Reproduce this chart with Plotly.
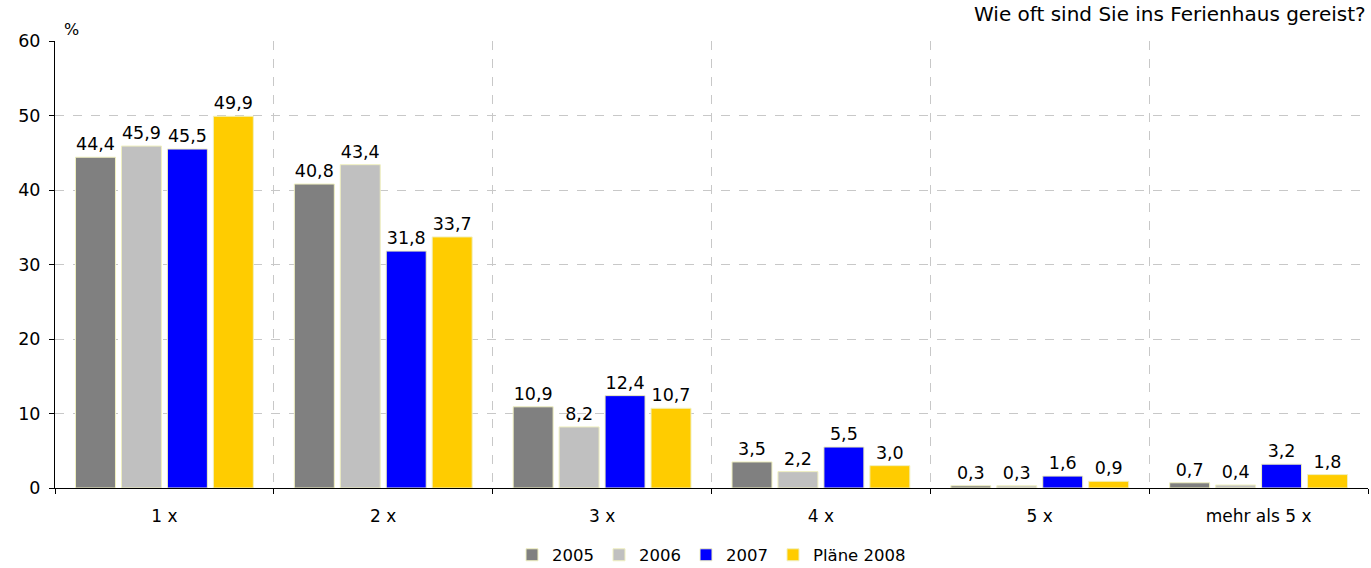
import plotly.graph_objects as go

categories = ["1 x", "2 x", "3 x", "4 x", "5 x", "mehr als 5 x"]
series_names = ["2005", "2006", "2007", "Pläne 2008"]
values_2005 = [44.4, 40.8, 10.9, 3.5, 0.3, 0.7]
values_2006 = [45.9, 43.4, 8.2, 2.2, 0.3, 0.4]
values_2007 = [45.5, 31.8, 12.4, 5.5, 1.6, 3.2]
values_2008 = [49.9, 33.7, 10.7, 3.0, 0.9, 1.8]
colors = ["#808080", "#c0c0c0", "#0000ff", "#ffcc00"]
y_ticks = [0, 10, 20, 30, 40, 50, 60]

FONT = "DejaVu Sans, Verdana, sans-serif"

fig = go.Figure()
for name, vals, col in zip(series_names,
                           [values_2005, values_2006, values_2007, values_2008],
                           colors):
    fig.add_trace(go.Bar(
        name=name,
        x=categories,
        y=vals,
        marker=dict(color=col, line=dict(color="#f0f0c0", width=1)),
        texttemplate="%{y:.1f}",
        textposition="outside",
        constraintext="none",
        cliponaxis=False,
        textfont=dict(family=FONT, size=17.5, color="#000000"),
        hoverinfo="skip",
    ))

fig.update_layout(
    width=1371, height=568,
    margin=dict(l=55, r=3, t=41, b=80, autoexpand=False),
    paper_bgcolor="white",
    plot_bgcolor="white",
    barmode="group",
    bargap=0.16,
    bargroupgap=0.13,
    separators=",.",
    font=dict(family=FONT, size=17, color="#000000"),
    showlegend=True,
    legend=dict(
        orientation="h",
        x=0.5, xanchor="center",
        y=-0.15, yanchor="middle",
        font=dict(family=FONT, size=16.5),
        itemwidth=30,
        tracegroupgap=0,
        traceorder="normal",
    ),
    xaxis=dict(
        type="category",
        tickson="boundaries",
        showgrid=True,
        gridcolor="#c8c8c8",
        griddash="dash",
        gridwidth=1,
        showline=True,
        linecolor="#000000",
        linewidth=1,
        ticks="outside",
        ticklen=5,
        tickcolor="#000000",
        ticklabelstandoff=13,
        tickfont=dict(family=FONT, size=17),
    ),
    yaxis=dict(
        range=[0, 60],
        tickvals=y_ticks,
        showgrid=True,
        gridcolor="#c8c8c8",
        griddash="dash",
        gridwidth=1,
        zeroline=False,
        showline=True,
        linecolor="#000000",
        linewidth=1,
        ticks="outside",
        ticklen=5,
        tickcolor="#000000",
        ticklabelstandoff=5,
        tickfont=dict(family=FONT, size=17.5),
    ),
    annotations=[
        dict(text="%", xref="paper", yref="paper", x=0.005, y=1.0,
             xanchor="left", yanchor="bottom", showarrow=False,
             font=dict(family=FONT, size=16)),
        dict(text="Wie oft sind Sie ins Ferienhaus gereist?", xref="paper",
             yref="paper", x=1.0, y=1.028, xanchor="right", yanchor="bottom",
             showarrow=False, font=dict(family=FONT, size=20)),
    ],
)

fig.write_html("out.html")
